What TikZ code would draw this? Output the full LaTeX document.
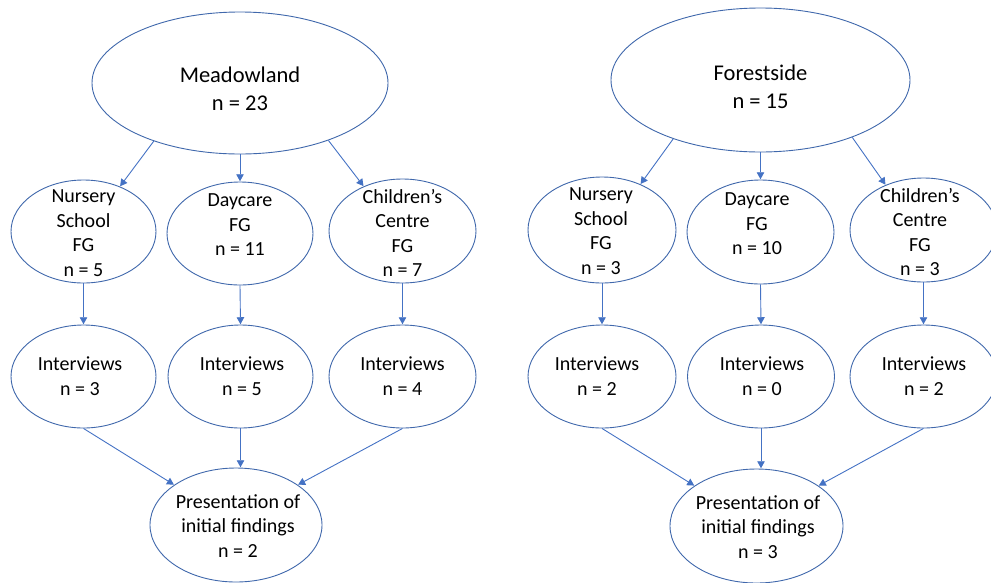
\documentclass[tikz,border=0pt]{standalone}
\usepackage{fontspec}
\setmainfont{Carlito}
\usetikzlibrary{arrows.meta,shapes.geometric}
\definecolor{edgeblue}{HTML}{4068AC}
\definecolor{arrblue}{HTML}{4472C4}
\tikzset{
  ell/.style={ellipse, draw=edgeblue, line width=0.9pt, fill=white, inner sep=0pt},
  txt/.style={align=center, inner sep=0pt, font=\fontsize{20}{24.5}\selectfont},
  bigtxt/.style={align=center, inner sep=0pt, font=\fontsize{22.5}{28}\selectfont},
  conn/.style={draw=arrblue, line width=0.9pt, -{Triangle[length=7pt,width=7.5pt]}, shorten >=0.3pt}
}
\begin{document}
\begin{tikzpicture}[x=1pt,y=-1pt]
\useasboundingbox (0,0) rectangle (991,582);
% ---------- Left group ----------
\node[ell, minimum width=296, minimum height=142] (m) at (240,83) {};
\node[bigtxt] (mt) at (240,89) {Meadowland\\n = 23};
\node[ell, minimum width=145, minimum height=103] (nl) at (83.5,231.5) {};
\node[txt] (nlt) at (83.5,233) {Nursery\\School\\FG\\n = 5};
\node[ell, minimum width=146, minimum height=103] (dl) at (240,233.5) {};
\node[txt] (dlt) at (240,225) {Daycare\\FG\\n = 11};
\node[ell, minimum width=147, minimum height=104] (cl) at (402.5,231) {};
\node[txt] (clt) at (402.5,233) {Children’s\\Centre\\FG\\n = 7};
\node[ell, minimum width=145, minimum height=103] (il1) at (83.5,376.5) {};
\node[txt] (il1t) at (80,376) {Interviews\\n = 3};
\node[ell, minimum width=145, minimum height=103] (il2) at (240.5,376.5) {};
\node[txt] (il2t) at (242,376) {Interviews\\n = 5};
\node[ell, minimum width=147, minimum height=103] (il3) at (402.5,376.5) {};
\node[txt] (il3t) at (402.5,376) {Interviews\\n = 4};
\node[ell, minimum width=172, minimum height=114] (pl) at (236,525) {};
\node[txt] (plt) at (238,526) {Presentation of\\initial findings\\n = 2};
\draw[conn] (m.214) -- (nl.51);
\draw[conn] (m.south) -- (dl.north);
\draw[conn] (m.327) -- (cl.131);
\draw[conn] (nl.south) -- (il1.north);
\draw[conn] (dl.south) -- (il2.north);
\draw[conn] (cl.south) -- (il3.north);
\draw[conn] (il1.south) -- (pl.147);
\draw[conn] (il2.south) -- (pl.north -| il2.south);
\draw[conn] (il3.south) -- (pl.33);
% ---------- Right group ----------
\node[ell, minimum width=299, minimum height=144] (f) at (760.5,80) {};
\node[bigtxt] (ft) at (760.5,86.5) {Forestside\\n = 15};
\node[ell, minimum width=148, minimum height=106] (nr) at (602,230) {};
\node[txt] (nrt) at (601,231) {Nursery\\School\\FG\\n = 3};
\node[ell, minimum width=147, minimum height=104] (dr) at (760.5,232) {};
\node[txt] (drt) at (757,224) {Daycare\\FG\\n = 10};
\node[ell, minimum width=147, minimum height=104] (cr) at (923.5,230) {};
\node[txt] (crt) at (920,232) {Children’s\\Centre\\FG\\n = 3};
\node[ell, minimum width=148, minimum height=103] (ir1) at (602,376.5) {};
\node[txt] (ir1t) at (597,376) {Interviews\\n = 2};
\node[ell, minimum width=147, minimum height=103] (ir2) at (761,376.5) {};
\node[txt] (ir2t) at (762,376) {Interviews\\n = 0};
\node[ell, minimum width=147, minimum height=103] (ir3) at (923.5,376.5) {};
\node[txt] (ir3t) at (924,376) {Interviews\\n = 2};
\node[ell, minimum width=173, minimum height=114] (pr) at (756.5,526) {};
\node[txt] (prt) at (758,527) {Presentation of\\initial findings\\n = 3};
\draw[conn] (f.214) -- (nr.50);
\draw[conn] (f.south) -- (dr.north);
\draw[conn] (f.328) -- (cr.130);
\draw[conn] (nr.south) -- (ir1.north);
\draw[conn] (dr.south) -- (ir2.north);
\draw[conn] (cr.south) -- (ir3.north);
\draw[conn] (ir1.south) -- (pr.147);
\draw[conn] (ir2.south) -- (pr.north -| ir2.south);
\draw[conn] (ir3.south) -- (pr.33);
\end{tikzpicture}
\end{document}
